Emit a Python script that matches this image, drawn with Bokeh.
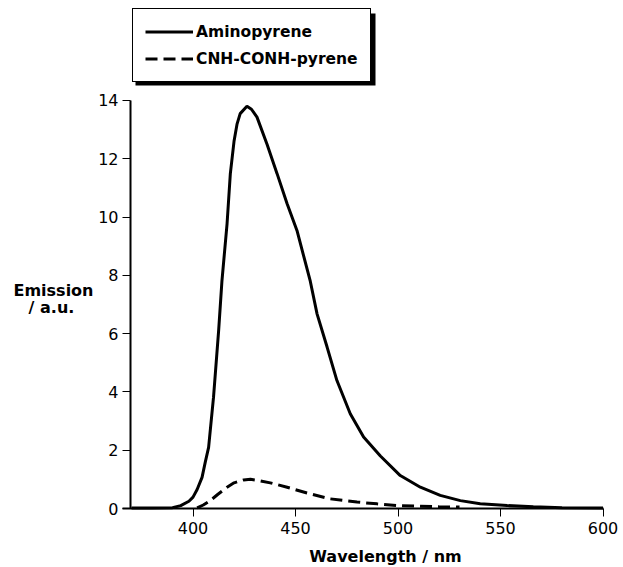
from bokeh.plotting import figure
from bokeh.models import Range1d, FixedTicker, Legend, LegendItem, Label, BoxAnnotation
from bokeh.embed import file_html
from bokeh.resources import INLINE

# Aminopyrene emission (wavelength nm, a.u.)
amino_nm = [370, 380, 390, 394, 398, 400, 402, 404.4, 406, 407.6, 410, 412.5, 414.1,
            416.6, 418.2, 420, 421.5, 423, 426.3, 428.5, 431.2, 436.1, 441, 445.9,
            450.7, 457.2, 460.5, 465.4, 470.2, 476.7, 483.2, 491.4, 501.1, 510.9,
            520.6, 530.4, 540.1, 553.2, 566, 580, 600]
amino_val = [0.02, 0.02, 0.03, 0.10, 0.25, 0.39, 0.65, 1.07, 1.6, 2.1, 3.82, 6.11, 7.8,
             9.77, 11.49, 12.6, 13.2, 13.55, 13.8, 13.7, 13.43, 12.5, 11.49, 10.46,
             9.54, 7.8, 6.68, 5.54, 4.39, 3.25, 2.45, 1.8, 1.13, 0.73,
             0.45, 0.27, 0.16, 0.10, 0.06, 0.03, 0.02]

# CNH-CONH-pyrene emission
cnh_nm = [402, 405, 408.4, 412, 416.6, 420, 424.7, 428, 432, 437.7, 445.9, 455.6,
          467, 480, 489.8, 500, 510, 520, 530]
cnh_val = [0.02, 0.12, 0.27, 0.48, 0.73, 0.88, 0.98, 1.0, 0.96, 0.88, 0.73, 0.53,
           0.33, 0.22, 0.16, 0.10, 0.08, 0.06, 0.05]

series_labels = ["Aminopyrene", "CNH-CONH-pyrene"]
x_ticks = [400, 450, 500, 550, 600]
y_ticks = [0, 2, 4, 6, 8, 10, 12, 14]
x_min, x_max = 369.5, 600
y_min, y_max = 0, 14

FONT = "DejaVu Sans"
W, H = 623, 567
# frame covers the whole canvas; axes are pinned inside it
x_scale = 2.05      # px per nm
y_scale = 29.143    # px per unit
ax_left, ax_bottom = 130, 508

p = figure(width=W, height=H,
           x_range=Range1d(x_min - ax_left / x_scale, x_min + (W - ax_left) / x_scale),
           y_range=Range1d(-(H - ax_bottom) / y_scale, ax_bottom / y_scale),
           output_backend="svg", toolbar_location=None,
           min_border=0)
p.outline_line_color = None
p.grid.visible = False

r1 = p.line(amino_nm, amino_val, line_color="black", line_width=3)
r2 = p.line(cnh_nm, cnh_val, line_color="black", line_width=3, line_dash="12 6")

for ax in (p.xaxis[0], p.yaxis[0]):
    ax.axis_line_width = 2
    ax.axis_line_color = "black"
    ax.major_tick_in = 0
    ax.major_tick_out = 8
    ax.major_tick_line_color = "black"
    ax.minor_tick_line_color = None
    ax.major_label_text_font = FONT
    ax.major_label_text_font_size = "16px"
    ax.major_label_text_color = "black"

p.xaxis.ticker = FixedTicker(ticks=x_ticks)
p.yaxis.ticker = FixedTicker(ticks=y_ticks)
p.xaxis.fixed_location = y_min
p.yaxis.fixed_location = x_min
p.xaxis.bounds = (x_min - 4, x_max)
p.yaxis.bounds = (y_min, y_max)
p.xaxis.major_label_standoff = 5
p.yaxis.major_label_standoff = 4

def lab(text, x, y):
    p.add_layout(Label(x=x, y=y, x_units="screen", y_units="screen", text=text,
                       text_font=FONT, text_font_style="bold", text_font_size="16px",
                       text_align="center", text_baseline="middle", text_color="black"))

lab("Emission", 53, H - 290)
lab("/ a.u.", 51, H - 307)
lab("Wavelength / nm", 385, H - 556)

# legend drop shadow (screen px), then the legend itself
p.add_layout(BoxAnnotation(left=135, right=375, top=H - 13, bottom=H - 85,
                           left_units="screen", right_units="screen",
                           top_units="screen", bottom_units="screen",
                           fill_color="black", fill_alpha=1, line_color=None))

legend = Legend(items=[LegendItem(label=series_labels[0], renderers=[r1]),
                       LegendItem(label=series_labels[1], renderers=[r2])],
                location=(132, H - 82), margin=0, padding=12, spacing=6,
                glyph_width=48, glyph_height=21, label_height=21, label_standoff=3,
                label_text_font=FONT, label_text_font_style="bold",
                label_text_font_size="15.5px", label_text_color="black",
                border_line_color="black", border_line_width=1.2, border_line_alpha=1,
                background_fill_color="white", background_fill_alpha=1)
p.add_layout(legend, "center")

open("out.html", "w").write(file_html(p, INLINE))
